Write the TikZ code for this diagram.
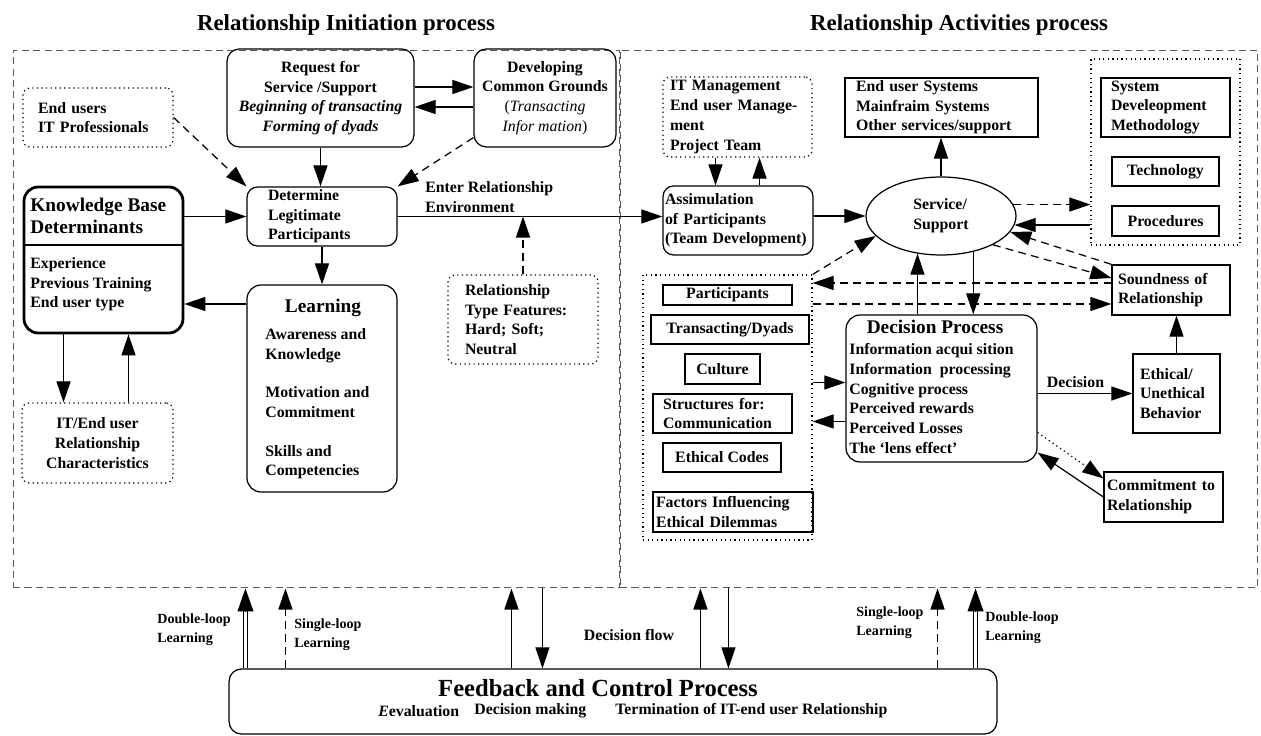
\documentclass[tikz,border=0pt]{standalone}
\usepackage{fontspec}
\setmainfont{Liberation Serif}
\usetikzlibrary{arrows.meta, calc, shapes.geometric}

\newcommand\nfont{\fontsize{9}{11.2}\selectfont\bfseries}
\newcommand\hfont{\fontsize{11}{12.5}\selectfont\bfseries}
\newcommand\tfont{\fontsize{13}{15}\selectfont\bfseries}
\newcommand\sfont{\fontsize{8}{11}\selectfont\bfseries}

\tikzset{
	wh/.style 2 args={minimum width=#1cm, minimum height=#2cm},
	box/.style={draw, line width=0.7pt, inner sep=0pt, font=\nfont},
	rbox/.style={box, rounded corners=6pt},
	dots/.style={dash pattern=on 0.7pt off 1.9pt},
	dbox/.style={box, dots, rounded corners=4pt},
	region/.style={draw, black!65, dash pattern=on 4pt off 2.5pt, line width=0.6pt, inner sep=0pt},
	txt/.style={inner sep=0pt, font=\nfont, align=left},
	arr/.style={-{Triangle[length=12pt,width=8pt]}, line width=0.7pt},
	darr/.style={arr, dash pattern=on 4.5pt off 3pt},
	dotarr/.style={arr, dots},
	bigarr/.style={-{Triangle[length=13pt,width=9pt]}, line width=0.7pt},
	dbl/.style={double, double distance=1.6pt, line width=0.6pt}
}

\begin{document}
\begin{tikzpicture}[x=0.02cm, y=-0.02cm]
	\useasboundingbox (0,0) rectangle (1261,736);

	\node[region, wh={12.14}{10.76}] (initreg) at (316.5,319) {};
	\node[region, wh={12.76}{10.76}] (actreg) at (939,319) {};
	\node[font=\tfont] (ttlinit) at (346,25) {Relationship Initiation process};
	\node[font=\tfont] (ttlact) at (959,25) {Relationship Activities process};

	\node[rbox, rounded corners=7pt, wh={3.74}{1.96}, align=center] (req) at (320.5,98) {Request for\\Service /Support\\\textit{Beginning of transacting}\\\textit{Forming of dyads}};
	\node[rbox, rounded corners=7pt, wh={2.84}{1.96}, align=center] (dev) at (545,98) {Developing\\Common Grounds\\{\mdseries(\textit{Transacting}}\\{\mdseries\textit{Infor mation})}};
	\node[dbox, wh={3.0}{1.18}, text width=2.4cm, align=left] (endusers) at (98,117.5) {End users\\IT Professionals};
	\node[rbox, wh={3.0}{1.18}, text width=2.16cm, align=left] (det) at (322,216.5) {Determine\\Legitimate\\Participants};

	\node[rbox, line width=1.6pt, rounded corners=8pt, wh={3.18}{2.92}] (kb) at (103.5,260) {};
	\node[txt, font=\hfont, anchor=west] (kbhead) at (30,216) {Knowledge Base\\Determinants};
	\node[txt, anchor=west] (kbbody) at (30,284.5) {Experience\\Previous Training\\End user type};
	\draw[line width=1.6pt] ($(kb.west)+(0,-15)$) -- ($(kb.east)+(0,-15)$);

	\node[rbox, rounded corners=8pt, wh={3.0}{4.14}] (learn) at (322,388.5) {};
	\node[font=\hfont, inner sep=0pt] (learnhead) at (323,308) {Learning};
	\node[txt, anchor=west] (learnbody) at (265,404) {Awareness and\\Knowledge\\[10.8pt]Motivation and\\Commitment\\[10.8pt]Skills and\\Competencies};

	\node[dbox, wh={3.0}{1.78}, text width=2.32cm, align=left] (reltype) at (523,319.5) {Relationship\\Type Features:\\Hard; Soft;\\Neutral};
	\node[txt, anchor=west] (enter) at (425,197) {Enter Relationship\\Environment};
	\node[dbox, wh={3.02}{1.6}, align=center] (itend) at (97.5,443) {IT/End user\\Relationship\\Characteristics};

	\node[dbox, wh={2.98}{1.6}, text width=2.7cm, align=left] (itmgmt) at (737.5,117) {IT Management\\End user Manage-\\ment\\Project Team};
	\node[box, wh={3.86}{1.18}, text width=3.42cm, align=left] (eusys) at (941.5,107.5) {End user Systems\\Mainfraim Systems\\Other services/support};
	\node[box, dots, wh={2.98}{3.72}] (toolbox) at (1165.5,152) {};
	\node[box, wh={2.58}{1.18}, text width=2.18cm, align=left] (sdm) at (1165.5,107.5) {System\\Develeopment\\Methodology};
	\node[box, wh={2.14}{0.58}] (tech) at (1165.5,171.5) {Technology};
	\node[box, wh={2.14}{0.6}] (proc) at (1165.5,221) {Procedures};
	\node[rbox, wh={3.0}{1.38}, text width=2.92cm, align=left] (assim) at (738,220.5) {Assimulation\\of Participants\\(Team Development)};
	\node[box, ellipse, wh={3.0}{1.56}, align=left] (svc) at (941,216) {Service/\\Support};

	\node[box, dots, wh={3.38}{5.3}] (factors) at (727.5,407.5) {};
	\node[box, wh={2.58}{0.4}] (part) at (727.5,295) {Participants};
	\node[box, wh={3.16}{0.58}] (trans) at (730,329.5) {Transacting/Dyads};
	\node[box, wh={1.5}{0.6}] (cult) at (722.5,369) {Culture};
	\node[box, wh={2.78}{0.78}, text width=2.38cm, align=left] (struct) at (722.5,413.5) {Structures for:\\Communication};
	\node[box, wh={2.36}{0.58}] (ethc) at (722,457.5) {Ethical Codes};
	\node[box, wh={3.2}{0.8}, text width=3.08cm, align=left] (fact) at (733,512) {Factors Influencing\\Ethical Dilemmas};

	\node[rbox, rounded corners=8pt, wh={3.82}{2.94}] (dec) at (941.5,388.5) {};
	\node[font=\hfont, inner sep=0pt] (dechead) at (935,327) {Decision Process};
	\node[txt, anchor=west] (decbody) at (849,398.5) {Information acqui sition\\Information\ \ processing\\Cognitive process\\Perceived rewards\\Perceived Losses\\The ‘lens effect’};
	\node[box, wh={2.36}{1.0}, text width=2.12cm, align=left] (sound) at (1171,290) {Soundness of\\Relationship};
	\node[box, wh={1.74}{1.58}, text width=1.46cm, align=left] (ethb) at (1176.5,393.5) {Ethical/\\Unethical\\Behavior};
	\node[box, wh={2.38}{1.0}, text width=2.26cm, align=left] (commit) at (1163.5,497) {Commitment to\\Relationship};

	\node[rbox, rounded corners=7pt, wh={15.36}{1.3}] (fb) at (613,701.5) {};
	\node[font=\fontsize{14}{16}\selectfont\bfseries, inner sep=0pt] (fbhead) at (598,688) {Feedback and Control Process};
	\node[txt, anchor=west] (fbeval) at (378,711) {\textit{E}evaluation};
	\node[txt, anchor=west] (fbdec) at (474,711) {Decision making};
	\node[txt, anchor=west] (fbterm) at (615,711) {Termination of IT-end user Relationship};

	\draw[arr] ($(req.east)+(0,-11)$) -- ($(dev.west)+(0,-11)$);
	\draw[arr] ($(dev.west)+(0,9)$) -- ($(req.east)+(0,9)$);
	\draw[darr] (endusers.east) -- (det.north west);
	\draw[arr] (req.south) -- (req.south |- det.north);
	\draw[darr] ($(dev.south west)+(0,-10)$) -- (det.north east);
	\draw[arr] (kb.east |- det.west) -- (det.west);
	\draw[arr] (det.east) -- (det.east -| assim.west);
	\draw[darr] (reltype.north) -- (reltype.north |- det.east);
	\draw[arr] (det.south) -- (learn.north);
	\coordinate (kbin) at ($(kb.east)+(0,44)$);
	\coordinate (kbout) at ($(kb.south)+(-40,0)$);
	\coordinate (kbback) at ($(kb.south)+(25,0)$);
	\draw[arr] (learn.west |- kbin) -- (kbin);
	\draw[arr] (kbout) -- (kbout |- itend.north);
	\draw[arr] (kbback |- itend.north) -- (kbback);

	\coordinate (im1) at ($(itmgmt.south)+(-22,0)$);
	\coordinate (im2) at ($(itmgmt.south)+(22,0)$);
	\draw[arr] (im1) -- (im1 |- assim.north);
	\draw[arr] (im2 |- assim.north) -- (im2);
	\draw[arr] (assim.east |- svc.west) -- (svc.west);
	\draw[arr] (svc.north) -- (svc.north |- eusys.south);
	\draw[darr] (svc.9) -- (svc.9 -| toolbox.west);
	\draw[arr] (toolbox.west |- svc.-7) -- (svc.-7);
	\draw[darr] (factors.north east) -- (svc.197);
	\draw[darr] (sound.north west) -- (svc.-13);
	\draw[darr] (svc.-29) -- ($(sound.west)+(0,-12)$);
	\coordinate (sd1) at ($(sound.west)+(0,-7)$);
	\coordinate (sd2) at ($(sound.west)+(0,14)$);
	\draw[darr] (sd1) -- (sd1 -| factors.east);
	\draw[darr] (factors.east |- sd2) -- (sd2);
	\draw[arr] (svc.238 |- dec.north) -- (svc.238);
	\draw[arr] (svc.-48) -- (svc.-48 |- dec.north);

	\coordinate (dc1) at ($(dec.west)+(0,-6)$);
	\coordinate (dc2) at ($(dec.west)+(0,33)$);
	\draw[arr] (factors.east |- dc1) -- (dc1);
	\draw[arr] (dc2) -- (dc2 -| factors.east);
	\draw[arr] (dec.east |- ethb.west) -- node[above=3pt, pos=0.4, font=\nfont, inner sep=0pt] (declbl) {Decision} (ethb.west);
	\draw[arr] (ethb.north) -- (ethb.north |- sound.south);
	\draw[dotarr] ($(dec.east)+(0,44)$) -- ($(commit.north west)+(0,7)$);
	\draw[arr] (commit.west) -- ($(dec.south east)+(0,-10)$);

	\coordinate (fdl1) at ($(fb.north west)+(17,0)$);
	\coordinate (fsl1) at ($(fb.north west)+(57,0)$);
	\coordinate (fup1) at ($(fb.north west)+(283,0)$);
	\coordinate (fdn1) at ($(fb.north west)+(314,0)$);
	\coordinate (fup2) at ($(fb.north west)+(472,0)$);
	\coordinate (fdn2) at ($(fb.north west)+(500,0)$);
	\coordinate (fsl2) at ($(fb.north east)+(-60,0)$);
	\coordinate (fdl2) at ($(fb.north east)+(-22,0)$);
	\draw[dbl] (fdl1) -- ($(fdl1 |- initreg.south)+(0,21)$);
	\draw[bigarr] ($(fdl1 |- initreg.south)+(0,23)$) -- (fdl1 |- initreg.south);
	\draw[darr] (fsl1) -- (fsl1 |- initreg.south);
	\draw[arr] (fup1) -- (fup1 |- initreg.south);
	\draw[arr] (fdn1 |- initreg.south) -- (fdn1);
	\draw[arr] (fup2) -- (fup2 |- actreg.south);
	\draw[arr] (fdn2 |- actreg.south) -- (fdn2);
	\draw[darr] (fsl2) -- (fsl2 |- actreg.south);
	\draw[dbl] (fdl2) -- ($(fdl2 |- actreg.south)+(0,21)$);
	\draw[bigarr] ($(fdl2 |- actreg.south)+(0,23)$) -- (fdl2 |- actreg.south);

	\node[txt, font=\sfont, anchor=west] (dl1lbl) at (157,630) {Double-loop\\Learning};
	\node[txt, font=\sfont, anchor=west] (sl1lbl) at (294,635) {Single-loop\\Learning};
	\node[font=\nfont, inner sep=0pt] (flowlbl) at (629,635) {Decision flow};
	\node[txt, font=\sfont, anchor=west] (sl2lbl) at (856,623) {Single-loop\\Learning};
	\node[txt, font=\sfont, anchor=west] (dl2lbl) at (985,628) {Double-loop\\Learning};
\end{tikzpicture}
\end{document}
